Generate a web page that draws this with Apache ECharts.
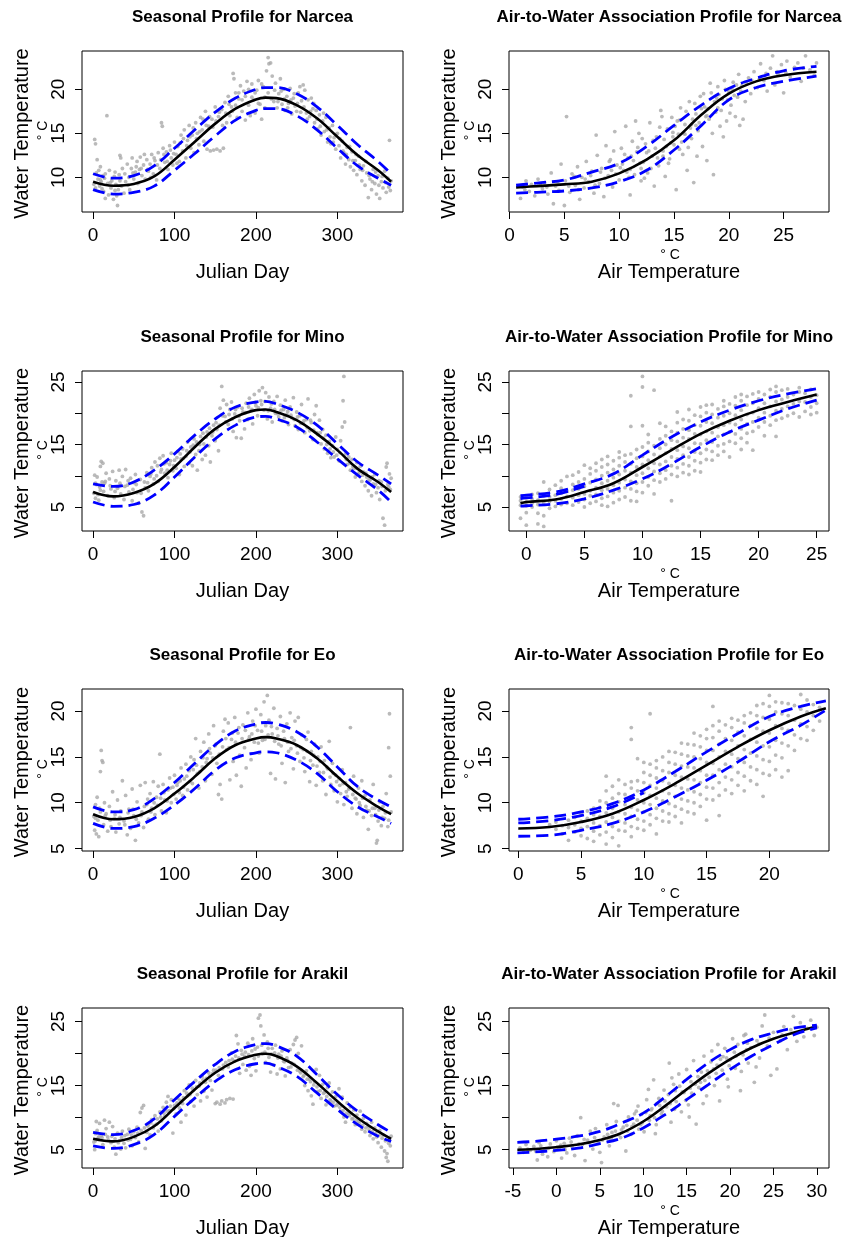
<!DOCTYPE html>
<html>
<head>
<meta charset="utf-8">
<script src="https://cdn.jsdelivr.net/npm/echarts@6/dist/echarts.min.js"></script>
<style>
html, body { margin: 0; padding: 0; background: #fff; }
#chart { width: 844px; height: 1237px; }
</style>
</head>
<body>
<div id="chart"></div>
<script>
// ---------- data ----------

// fitted seasonal curves (Julian day grid)
const seasonDays = [0, 25, 50, 75, 100, 125, 150, 175, 200, 212, 225, 250, 275, 300, 325, 350, 366]

const narceaSeasonMid = [9.5, 9.05, 9.25, 10.1, 12.0, 14.05, 16.1, 17.8, 18.85, 19.05, 19.0, 18.2, 16.7, 14.6, 12.5, 10.8, 9.5]
const narceaSeasonUp = [10.4, 9.9, 10.2, 11.3, 13.3, 15.4, 17.4, 19.0, 20.0, 20.2, 20.2, 19.5, 18.0, 15.9, 13.7, 11.8, 10.4]
const narceaSeasonLo = [8.6, 8.1, 8.3, 9.0, 10.8, 12.7, 14.7, 16.5, 17.6, 17.8, 17.8, 17.0, 15.4, 13.3, 11.3, 9.9, 9.1]

const minoSeasonMid = [7.4, 6.7, 7.25, 8.7, 11.4, 14.6, 17.5, 19.4, 20.5, 20.6, 20.2, 18.9, 16.7, 14.1, 11.1, 9.0, 7.4]
const minoSeasonUp = [8.7, 8.3, 9.0, 10.9, 13.5, 16.5, 19.1, 21.0, 21.8, 21.9, 21.5, 20.2, 18.1, 15.1, 12.2, 10.1, 8.7]
const minoSeasonLo = [5.8, 5.1, 5.4, 6.9, 9.8, 13.0, 15.9, 18.1, 19.4, 19.5, 19.1, 17.8, 15.4, 12.7, 10.1, 7.7, 5.8]

const eoSeasonMid = [8.75, 8.2, 8.45, 9.4, 11.0, 12.85, 14.85, 16.3, 17.0, 17.15, 17.0, 16.3, 14.85, 12.85, 11.0, 9.55, 8.75]
const eoSeasonUp = [9.55, 9.0, 9.25, 10.45, 12.2, 14.3, 16.3, 17.85, 18.6, 18.75, 18.6, 17.75, 16.1, 13.9, 11.75, 10.3, 9.55]
const eoSeasonLo = [7.75, 7.2, 7.4, 8.3, 9.75, 11.55, 13.55, 14.9, 15.45, 15.55, 15.45, 14.65, 13.2, 11.2, 9.55, 8.45, 7.75]

const arakilSeasonMid = [6.7, 6.3, 7.0, 8.65, 11.5, 14.4, 17.0, 18.8, 19.8, 19.95, 19.6, 18.0, 15.4, 12.55, 9.95, 7.85, 6.7]
const arakilSeasonUp = [7.7, 7.35, 8.0, 9.8, 12.8, 15.65, 18.3, 20.35, 21.4, 21.55, 21.2, 19.6, 16.7, 13.6, 11.0, 8.9, 7.7]
const arakilSeasonLo = [5.6, 5.2, 5.8, 7.35, 10.2, 13.05, 15.65, 17.5, 18.4, 18.5, 18.0, 16.45, 13.85, 11.25, 8.9, 7.1, 6.3]

// fitted air-to-water curves
const narceaAirX = [0.6, 2.5, 5, 7.5, 10, 12.5, 15, 17.5, 20, 22.5, 25, 28]
const narceaAirMid = [8.86, 9.0, 9.2, 9.5, 10.45, 12.0, 14.2, 17.1, 19.5, 20.9, 21.6, 22.0]
const narceaAirUp = [9.1, 9.35, 9.7, 10.6, 11.6, 13.5, 15.9, 18.2, 20.1, 21.25, 22.1, 22.6]
const narceaAirLo = [8.2, 8.3, 8.45, 8.8, 9.5, 10.8, 13.1, 15.9, 18.8, 20.2, 20.9, 21.5]

const minoAirX = [-0.5, 0, 2.5, 5, 7.5, 10, 12.5, 15, 17.5, 20, 22.5, 25]
const minoAirMid = [5.6, 5.8, 6.2, 7.4, 8.8, 11.4, 14.1, 16.7, 18.8, 20.5, 21.8, 23.0]
const minoAirUp = [6.8, 6.9, 7.4, 8.7, 10.3, 13.3, 16.2, 18.6, 20.5, 22.0, 23.1, 23.9]
const minoAirLo = [5.15, 5.2, 5.5, 6.3, 7.7, 9.5, 11.9, 14.6, 17.0, 18.9, 20.7, 22.1]
const minoAirUp2X = [-0.5, 0, 2.5, 5]
const minoAirUp2 = [6.35, 6.45, 7.0, 8.3]

const eoAirX = [0, 2.5, 5, 7.5, 10, 12.5, 15, 17.5, 20, 22.5, 24.5]
const eoAirMid = [7.2, 7.35, 7.9, 8.8, 10.3, 12.1, 14.1, 16.1, 17.9, 19.4, 20.3]
const eoAirUp = [8.2, 8.45, 9.0, 9.9, 11.4, 13.4, 15.55, 17.55, 19.4, 20.5, 21.1]
const eoAirLo = [6.35, 6.45, 7.0, 7.75, 9.0, 10.65, 12.45, 14.45, 16.65, 18.45, 20.1]
const eoAirUp2X = [0, 2.5, 5, 7.5, 10]
const eoAirUp2 = [7.8, 8.05, 8.6, 9.55, 11.1]

const arakilAirX = [-4.5, -2.5, 0, 2.5, 5, 7.5, 10, 12.5, 15, 17.5, 20, 22.5, 25, 27.5, 30]
const arakilAirMid = [5.0, 5.1, 5.4, 5.8, 6.5, 7.6, 9.4, 11.8, 14.4, 16.9, 19.1, 20.9, 22.3, 23.3, 24.2]
const arakilAirUp = [6.15, 6.3, 6.65, 7.1, 7.85, 9.15, 10.7, 13.2, 15.95, 18.55, 20.6, 22.2, 23.2, 24.0, 24.4]
const arakilAirLo = [4.5, 4.65, 4.9, 5.25, 5.95, 6.8, 8.4, 10.45, 12.8, 15.15, 17.5, 19.6, 21.4, 23.0, 24.0]

// observations: [julian day, water temp]
const narceaSeasonPts = [[1,9.2],[2,14.3],[3,13.8],[4,10.5],[5,12.0],[6,9.8],[7,10.8],[8,9.0],[9,11.2],[10,9.5],[11,8.7],[12,10.2],[13,8.4],[14,9.9],[15,7.6],[17,17.0],[18,9.3],[19,8.0],[20,10.8],[22,8.8],[23,9.6],[25,7.5],[26,10.1],[27,8.5],[28,9.2],[29,7.9],[30,6.8],[31,8.6],[32,10.3],[33,12.5],[34,12.2],[35,9.0],[36,11.0],[38,8.2],[40,9.5],[42,11.5],[44,10.0],[45,8.6],[47,11.0],[48,12.2],[50,9.8],[52,10.6],[54,11.8],[55,9.3],[57,10.9],[58,12.3],[60,10.2],[62,11.4],[64,9.8],[66,12.0],[68,10.7],[70,11.5],[72,12.6],[74,10.4],[76,11.9],[78,9.7],[80,12.8],[82,11.0],[84,16.2],[85,15.8],[86,13.3],[88,11.7],[90,12.9],[92,10.9],[94,13.6],[96,12.2],[98,11.4],[100,14.0],[102,12.6],[104,13.5],[106,11.8],[108,14.8],[110,13.0],[112,15.4],[114,12.2],[116,14.2],[118,15.9],[120,13.3],[122,14.8],[124,12.8],[126,16.2],[128,15.0],[130,13.7],[132,16.8],[134,15.4],[136,14.1],[138,17.5],[140,13.2],[142,15.8],[144,13.0],[146,16.6],[148,13.1],[150,18.0],[152,13.2],[154,16.9],[156,13.0],[158,17.7],[160,13.3],[162,18.5],[164,16.2],[166,19.2],[168,17.0],[170,18.0],[172,21.8],[173,21.2],[175,19.6],[177,16.8],[179,18.9],[181,20.4],[183,17.5],[185,19.8],[187,16.5],[189,20.9],[191,18.2],[193,17.0],[195,20.6],[197,18.8],[199,17.3],[201,19.9],[203,21.0],[205,18.3],[207,16.6],[209,20.3],[211,19.1],[213,22.1],[215,23.6],[216,22.9],[218,23.0],[220,21.5],[222,18.6],[224,20.7],[226,17.9],[228,19.5],[230,21.2],[232,18.3],[234,20.0],[236,17.6],[238,19.2],[240,18.4],[242,20.1],[244,17.2],[246,19.0],[248,18.1],[250,17.5],[252,19.6],[254,20.3],[256,18.7],[258,20.5],[260,19.9],[262,17.3],[264,18.8],[266,16.9],[268,19.0],[270,17.8],[272,16.2],[274,17.6],[276,15.5],[278,17.1],[280,14.8],[282,16.4],[284,15.2],[286,16.8],[288,14.0],[290,15.6],[292,13.8],[294,15.9],[296,14.5],[298,13.2],[300,15.0],[302,13.6],[304,12.2],[306,14.1],[308,12.8],[310,11.5],[312,13.4],[314,12.0],[316,11.2],[318,12.9],[320,10.8],[322,11.9],[324,10.3],[326,12.4],[328,10.9],[330,9.6],[332,11.3],[334,9.1],[336,10.5],[338,7.7],[340,9.8],[342,8.6],[344,10.9],[346,9.3],[348,8.1],[350,10.2],[352,7.6],[354,9.5],[356,8.8],[358,10.7],[360,8.3],[362,9.9],[364,14.2],[365,8.5],[366,9.6],
  [3,8.8],[9,9.7],[15,10.4],[21,9.4],[27,10.6],[33,9.6],[39,10.4],[43,9.1],[49,10.5],[53,11.2],[59,11.0],[63,12.6],[67,10.9],[71,10.0],[75,12.2],[79,11.4],[83,12.0],[87,12.6],[91,11.8],[95,13.1],[99,12.7],[103,11.6],[107,13.9],[111,14.4],[115,13.6],[119,14.6],[123,15.6],[127,14.4],[131,15.2],[135,16.6],[139,15.9],[143,16.9],[147,15.7],[151,16.4],[155,17.4],[159,15.9],[163,17.3],[167,18.3],[171,17.5],[175,18.2],[179,19.6],[183,18.8],[187,19.2],[191,20.0],[195,19.1],[199,19.6],[203,18.4],[207,20.6],[211,17.9],[215,19.6],[219,18.9],[223,19.9],[227,18.6],[231,19.8],[235,18.9],[239,17.9],[243,18.8],[247,19.5],[251,18.4],[255,17.4],[259,18.0],[263,16.6],[267,17.5],[271,18.4],[275,16.6],[279,15.8],[283,17.3],[287,15.4],[291,14.6],[295,14.0],[299,14.9],[303,14.4],[307,13.0],[311,12.6],[315,13.5],[319,11.9],[323,12.6],[327,11.4],[331,10.8],[335,11.8],[339,10.2],[343,9.5],[347,10.6],[351,9.1],[355,10.1],[359,9.4],[363,8.9]]

const minoSeasonPts = [[1,7.2],[2,10.1],[3,6.4],[4,8.6],[5,9.8],[6,7.0],[7,6.1],[8,8.2],[9,11.5],[10,12.3],[11,9.0],[12,12.0],[13,7.5],[14,8.8],[16,10.4],[18,6.8],[20,9.5],[22,7.9],[24,10.7],[26,6.5],[28,9.2],[30,8.0],[32,10.9],[34,7.1],[36,9.9],[38,6.2],[40,11.0],[42,8.5],[44,7.4],[46,9.6],[48,6.0],[50,8.9],[52,10.2],[54,7.3],[56,5.6],[58,9.4],[60,4.2],[62,3.6],[64,8.1],[66,10.5],[68,7.6],[70,9.9],[72,11.3],[74,8.7],[76,12.2],[78,10.0],[80,9.1],[82,12.8],[84,11.0],[86,13.2],[88,10.4],[90,12.1],[92,9.7],[94,11.8],[96,13.6],[98,10.8],[100,12.5],[102,11.2],[104,13.9],[106,10.2],[108,12.7],[110,14.3],[112,11.5],[114,13.1],[116,15.4],[118,12.0],[120,14.6],[122,11.6],[124,15.9],[126,13.4],[128,10.9],[130,14.0],[132,16.3],[134,12.6],[136,15.1],[138,13.3],[140,17.0],[142,14.8],[144,12.2],[146,16.4],[148,18.1],[150,15.6],[152,17.4],[154,14.0],[156,20.8],[158,24.3],[160,22.1],[162,19.5],[164,21.4],[166,18.2],[168,20.6],[170,21.8],[172,17.1],[174,19.9],[176,16.1],[178,21.0],[180,18.8],[182,16.0],[184,20.2],[186,17.5],[188,21.6],[190,19.0],[192,22.4],[194,20.4],[196,18.3],[198,23.0],[200,21.2],[202,19.6],[204,23.6],[206,22.0],[208,24.1],[210,20.5],[212,23.3],[214,19.1],[216,22.6],[218,20.8],[220,18.6],[222,21.9],[224,20.0],[226,22.7],[228,19.4],[230,21.3],[232,18.8],[234,20.6],[236,22.1],[238,19.8],[240,18.2],[242,21.0],[244,19.3],[246,22.5],[248,18.0],[250,20.2],[252,17.4],[254,19.6],[256,21.4],[258,18.4],[260,16.9],[262,19.0],[264,22.3],[266,17.2],[268,18.5],[270,15.8],[272,19.8],[274,21.2],[276,16.6],[278,18.9],[280,15.1],[282,17.4],[284,14.3],[286,16.5],[288,13.6],[290,15.5],[292,12.9],[294,14.8],[296,13.0],[298,16.2],[300,14.2],[302,12.4],[304,15.6],[306,17.8],[307,22.0],[308,25.9],[309,18.6],[310,13.5],[312,11.8],[314,13.0],[316,10.9],[318,12.6],[320,11.2],[322,9.8],[324,12.1],[326,10.3],[328,11.5],[330,9.1],[332,10.6],[334,8.4],[336,9.8],[338,7.6],[340,9.3],[342,6.8],[344,8.7],[346,10.2],[348,7.3],[350,8.1],[352,6.2],[354,9.0],[356,3.2],[358,2.1],[360,11.4],[361,12.0],[362,8.6],[364,10.3],[365,7.8],[366,9.6],
  [3,8.8],[9,7.7],[15,9.1],[21,8.4],[27,7.5],[33,8.8],[39,8.3],[43,9.2],[49,7.8],[53,8.6],[59,7.2],[63,9.0],[67,8.9],[71,10.3],[75,9.5],[79,11.6],[83,10.6],[87,11.9],[91,10.9],[95,12.4],[99,11.6],[103,12.9],[107,13.5],[111,12.8],[115,14.0],[119,13.8],[123,14.9],[127,15.4],[131,15.0],[135,16.8],[139,16.2],[143,17.6],[147,17.0],[151,18.5],[155,18.1],[159,19.6],[163,18.6],[167,19.8],[171,19.1],[175,20.6],[179,19.5],[183,20.8],[187,20.1],[191,21.0],[195,20.6],[199,21.7],[203,20.9],[207,21.4],[211,21.9],[215,20.4],[219,21.5],[223,20.6],[227,19.9],[231,20.5],[235,19.3],[239,20.3],[243,19.7],[247,19.0],[251,19.4],[255,18.4],[259,18.8],[263,17.7],[267,18.9],[271,17.3],[275,16.9],[279,16.9],[283,16.0],[287,15.0],[291,14.3],[295,13.8],[299,13.3],[303,13.7],[311,12.6],[315,12.0],[319,11.5],[323,11.2],[327,10.6],[331,10.1],[335,10.4],[339,9.4],[343,9.8],[347,8.6],[351,9.2],[355,8.3],[359,7.6],[363,8.2]]

const eoSeasonPts = [[1,8.5],[2,7.0],[3,9.8],[4,6.6],[5,10.6],[6,8.1],[7,6.3],[8,9.4],[9,13.4],[10,15.7],[11,14.6],[12,14.4],[13,7.6],[14,10.0],[16,8.8],[18,6.9],[20,9.6],[22,7.4],[24,11.2],[26,8.3],[28,6.8],[30,10.3],[32,7.7],[34,9.1],[36,12.4],[38,8.0],[40,10.8],[42,6.5],[44,9.3],[46,7.2],[48,11.5],[50,8.6],[52,5.9],[54,10.1],[56,7.8],[58,11.9],[60,9.0],[62,7.3],[64,12.2],[66,9.8],[68,8.2],[70,11.0],[72,9.4],[74,12.3],[76,8.7],[78,10.6],[80,11.8],[82,15.3],[84,9.1],[86,12.0],[88,10.3],[90,8.9],[92,11.4],[94,12.7],[96,10.0],[98,11.7],[100,13.0],[102,10.4],[104,12.2],[106,11.1],[108,13.8],[110,10.8],[112,12.6],[114,14.2],[116,11.4],[118,13.5],[120,15.0],[122,12.1],[124,14.7],[126,17.0],[128,13.2],[130,11.6],[132,15.6],[134,13.9],[136,16.6],[138,12.4],[140,14.8],[142,17.5],[144,15.4],[146,13.1],[148,18.4],[150,16.2],[152,14.3],[154,10.9],[156,12.0],[158,10.4],[160,17.8],[162,19.1],[164,15.8],[166,18.7],[168,12.5],[170,16.9],[172,14.5],[174,19.3],[176,13.0],[178,17.6],[180,15.2],[182,11.8],[184,18.5],[186,16.0],[188,13.8],[190,19.8],[192,17.2],[194,14.7],[196,18.9],[198,16.6],[200,20.2],[202,17.9],[204,15.4],[206,19.6],[208,16.8],[210,21.0],[212,18.4],[214,21.7],[216,19.0],[218,13.2],[220,17.5],[222,20.3],[224,12.6],[226,18.1],[228,16.4],[230,19.4],[232,14.3],[234,17.8],[236,12.2],[238,18.6],[240,15.6],[242,19.8],[244,17.1],[246,13.7],[248,18.9],[250,16.2],[252,19.3],[254,14.5],[256,17.4],[258,15.8],[260,13.4],[262,16.9],[264,17.7],[266,12.3],[268,15.6],[270,14.1],[272,16.4],[274,11.9],[276,15.0],[278,13.3],[280,16.1],[282,12.4],[284,14.6],[286,10.9],[288,13.7],[290,16.7],[292,12.0],[294,14.3],[296,11.3],[298,13.0],[300,10.1],[302,12.6],[304,11.0],[306,13.6],[308,9.8],[310,12.2],[312,10.7],[314,11.5],[316,18.2],[318,9.4],[320,12.9],[322,10.5],[324,8.8],[326,11.6],[328,9.7],[330,12.4],[332,8.4],[334,10.8],[336,9.2],[338,7.1],[340,10.3],[342,8.6],[344,12.0],[346,9.4],[348,5.6],[349,5.9],[350,8.0],[352,10.1],[354,7.5],[356,9.6],[358,8.3],[360,11.0],[362,7.4],[363,16.0],[364,19.7],[365,12.9],[366,9.0],
  [3,8.3],[9,9.0],[15,8.6],[21,8.1],[27,8.7],[33,8.4],[39,7.6],[43,8.9],[49,9.3],[53,8.2],[59,8.6],[63,9.6],[67,10.4],[71,9.0],[75,10.0],[79,9.7],[83,10.5],[87,11.1],[91,10.2],[95,11.6],[99,10.9],[103,11.9],[107,12.4],[111,11.7],[115,12.9],[119,12.3],[123,13.6],[127,14.1],[131,13.4],[135,14.9],[139,14.4],[143,15.9],[147,14.9],[151,16.4],[155,15.3],[159,16.1],[163,17.0],[167,16.0],[171,17.6],[175,16.6],[179,18.2],[183,17.0],[187,17.9],[191,16.9],[195,17.5],[199,18.4],[203,16.5],[207,17.8],[211,16.9],[215,17.4],[219,18.3],[223,16.7],[227,17.3],[231,16.2],[235,17.0],[239,16.6],[243,15.9],[247,16.8],[251,15.4],[255,16.0],[259,14.9],[263,15.6],[267,14.6],[271,15.2],[275,14.0],[279,14.5],[283,13.3],[287,13.9],[291,12.8],[295,13.2],[299,12.3],[303,11.9],[307,12.1],[311,11.2],[315,11.6],[319,10.9],[323,10.4],[327,10.0],[331,10.5],[335,9.6],[339,9.1],[343,9.4],[347,8.7],[351,9.2],[355,8.4],[359,8.9],[363,8.1]]

const arakilSeasonPts = [[1,6.2],[2,5.0],[3,7.5],[4,9.4],[5,8.0],[6,6.8],[8,9.1],[10,7.2],[12,5.8],[14,9.6],[16,8.3],[18,7.0],[20,9.3],[22,6.1],[24,8.6],[26,5.4],[28,4.3],[30,7.6],[32,6.4],[34,5.1],[36,7.9],[38,6.0],[40,5.3],[42,7.4],[44,8.2],[46,6.6],[48,5.6],[50,7.8],[52,6.9],[54,8.5],[56,6.2],[58,10.8],[60,11.5],[62,11.9],[64,5.2],[66,7.7],[68,8.9],[70,7.3],[72,9.7],[74,8.4],[76,10.3],[78,9.0],[80,7.9],[82,10.9],[84,9.5],[86,11.6],[88,10.2],[90,12.4],[92,13.3],[94,11.1],[96,12.8],[98,7.6],[100,11.9],[102,10.6],[104,13.0],[106,11.5],[108,9.3],[110,12.2],[112,14.2],[114,10.4],[116,13.4],[118,15.1],[120,12.5],[122,14.6],[124,11.8],[126,15.8],[128,13.6],[130,14.9],[132,12.6],[134,16.4],[136,14.1],[138,15.5],[140,13.2],[142,17.0],[144,15.8],[146,14.3],[148,17.4],[150,12.2],[152,12.4],[154,16.6],[156,12.1],[158,12.6],[160,18.2],[162,12.3],[164,12.8],[166,17.9],[168,13.0],[170,20.1],[172,12.9],[174,18.8],[176,22.8],[178,21.5],[180,16.9],[182,20.5],[184,18.3],[186,19.6],[188,17.4],[190,21.6],[192,18.0],[194,16.6],[196,22.3],[198,19.2],[200,17.3],[202,21.0],[203,25.5],[205,26.0],[206,24.3],[208,20.0],[210,22.9],[212,18.6],[214,21.8],[216,19.4],[218,17.1],[220,20.8],[222,18.2],[224,21.3],[226,16.8],[228,19.9],[230,17.6],[232,20.4],[234,18.8],[236,16.5],[238,19.3],[240,17.8],[242,20.6],[244,18.5],[246,21.4],[248,22.1],[250,22.5],[252,20.0],[254,17.2],[256,21.2],[258,16.4],[260,15.0],[262,17.3],[264,14.2],[266,16.0],[268,13.4],[270,12.1],[272,15.6],[274,17.5],[276,14.1],[278,16.6],[280,13.0],[282,15.2],[284,13.9],[286,12.0],[288,14.7],[290,15.4],[292,12.6],[294,14.0],[296,11.8],[298,13.3],[300,12.1],[302,14.5],[304,11.0],[306,13.2],[308,10.1],[310,9.3],[312,12.3],[314,10.6],[316,11.7],[318,9.8],[320,11.2],[322,8.9],[324,10.4],[326,9.4],[328,11.0],[330,8.2],[332,9.9],[334,7.8],[336,9.1],[338,8.6],[340,7.2],[342,9.3],[344,6.7],[346,8.4],[348,7.0],[350,6.1],[352,8.0],[354,5.4],[356,7.3],[358,4.8],[360,3.8],[361,4.4],[362,3.2],[364,6.5],[365,5.6],[366,7.1],
  [3,6.4],[7,7.0],[11,6.9],[15,7.4],[19,6.5],[23,7.1],[27,6.7],[31,6.1],[35,6.9],[39,7.2],[43,6.5],[47,7.3],[51,7.1],[55,7.6],[59,8.0],[63,8.4],[67,8.7],[71,9.2],[75,8.8],[79,9.8],[83,10.1],[87,10.7],[91,11.0],[95,11.8],[99,11.4],[103,12.3],[107,12.7],[111,13.1],[115,13.8],[119,13.6],[123,14.3],[127,14.8],[131,15.4],[135,15.9],[139,16.1],[143,16.5],[147,16.9],[151,17.4],[155,17.8],[159,17.6],[163,18.6],[167,18.9],[171,19.1],[175,19.6],[179,19.3],[183,19.9],[187,20.2],[191,19.8],[195,20.4],[199,20.7],[203,19.6],[207,21.3],[211,20.2],[215,20.8],[219,19.9],[223,20.1],[227,19.3],[231,19.6],[235,18.7],[239,18.9],[243,17.9],[247,18.3],[251,17.4],[255,17.0],[259,16.6],[263,16.0],[267,15.6],[271,15.1],[275,14.8],[279,14.2],[283,13.8],[287,13.3],[291,12.8],[295,12.4],[299,11.9],[303,11.6],[307,11.1],[311,10.7],[315,10.3],[319,9.9],[323,9.6],[327,9.1],[331,8.8],[335,8.4],[339,8.1],[343,7.8],[347,7.5],[351,7.2],[355,6.8],[359,6.4],[363,6.0]]

// observations: [air temp, water temp]
const narceaAirPts = [[1.0,7.6],[1.2,8.9],[1.5,9.6],[1.8,8.4],[2.0,9.2],[2.3,7.9],[2.6,9.8],[3.0,8.7],[3.2,9.4],[3.5,8.1],[3.8,10.5],[4.0,7.0],[4.2,9.0],[4.5,8.5],[4.7,11.5],[5.0,6.8],[5.1,9.6],[5.2,16.9],[5.5,8.3],[5.7,10.4],[6.0,9.1],[6.2,11.2],[6.4,7.5],[6.6,10.0],[6.8,8.8],[7.0,11.8],[7.2,9.5],[7.5,10.7],[7.7,8.2],[7.9,14.8],[8.0,12.5],[8.2,9.3],[8.4,11.0],[8.6,7.8],[8.8,13.6],[9.0,10.2],[9.2,12.0],[9.4,8.9],[9.6,15.2],[9.8,11.4],[10.0,9.7],[10.2,13.3],[10.4,10.8],[10.6,15.8],[10.8,12.2],[11.0,8.0],[11.2,14.1],[11.4,10.3],[11.6,12.9],[11.8,15.0],[12.0,9.6],[12.2,11.7],[12.4,13.8],[12.6,10.5],[12.8,16.2],[13.0,12.4],[13.2,9.0],[13.4,14.6],[13.6,11.3],[13.8,17.6],[14.0,13.0],[14.2,10.1],[14.4,15.5],[14.6,12.1],[14.8,16.8],[15.0,13.7],[15.2,8.6],[15.4,14.9],[15.6,17.9],[15.8,12.6],[16.0,16.0],[16.2,10.8],[16.4,18.6],[16.6,14.4],[16.8,9.4],[17.0,17.2],[17.2,15.3],[17.4,19.2],[17.6,13.5],[17.8,18.0],[18.0,11.9],[18.2,16.6],[18.4,19.6],[18.6,10.3],[18.8,17.4],[19.0,20.3],[19.2,15.8],[19.4,18.9],[19.6,21.0],[19.8,16.4],[20.0,19.7],[20.2,18.2],[20.4,20.8],[20.6,16.9],[20.8,19.1],[21.0,15.9],[21.2,20.4],[21.5,18.6],[21.8,21.3],[22.0,19.5],[22.3,22.0],[22.6,20.2],[22.9,22.9],[23.2,21.0],[23.5,19.8],[23.8,22.4],[24.0,23.8],[24.2,20.5],[24.5,21.7],[24.8,22.8],[25.0,19.6],[25.3,23.2],[25.6,21.4],[26.0,22.5],[26.3,23.0],[26.6,20.9],[27.0,23.8],[27.4,22.2],[27.8,21.6],[28.0,23.0],[9.1,11.8],[9.5,13.0],[10.1,11.1],[10.5,12.6],[10.9,10.0],[11.3,11.9],[11.7,13.4],[12.1,14.4],[12.5,12.8],[12.9,11.0],[13.3,13.3],[13.7,15.7],[14.1,14.3],[14.5,11.6],[14.9,15.1],[15.3,16.4],[15.7,14.0],[16.1,17.5],[16.5,15.6],[16.9,18.4],[17.3,16.2],[17.7,19.5],[18.1,17.8],[18.5,15.0],[18.9,19.0],[19.3,17.6],[19.7,20.0],[20.1,17.3],[20.5,19.3],[15.5,16.5],[16.3,13.4],[14.7,13.9],[13.9,16.9],[12.3,9.9],[11.5,16.4],[17.1,12.4],[18.3,20.7],[19.5,14.6],[20.9,21.7],[21.3,16.6],
  [1.4,8.6],[2.8,9.1],[3.4,8.9],[4.4,9.5],[5.4,9.0],[5.9,10.1],[6.3,8.6],[6.9,9.8],[7.4,10.2],[7.8,9.1],[8.3,10.6],[8.7,9.9],[9.3,10.8],[9.7,10.4],[10.3,11.5],[10.7,10.6],[11.1,12.4],[11.9,11.6],[12.7,13.0],[13.1,14.2],[13.5,12.2],[14.3,13.5],[14.9,14.6],[15.1,15.8],[15.9,15.0],[16.7,16.6],[17.5,17.8],[17.9,16.9],[18.7,18.6],[19.1,19.4],[19.9,18.8],[20.3,20.0],[20.7,20.5],[21.1,19.8],[21.6,20.7],[22.1,21.0],[22.8,21.2],[23.4,21.8],[24.4,22.0],[25.2,21.9],[26.8,22.4],[16.0,14.9],[17.0,15.9],[18.0,17.0],[12.0,11.0],[11.0,10.9],[14.0,12.4],[15.5,13.2],[16.6,16.0],[19.0,17.9]]

// Mino and Eo air temps come in 0.5 degree columns: [air temp, [water temps]]
const minoAirCols = [[-0.5,[3.2,5.3,6.0,6.6]],[0,[2.1,4.1,5.2,5.8,6.5]],[0.5,[5.0,5.6,6.3,7.0]],[1,[2.3,4.0,5.4,6.1,7.2]],[1.5,[1.9,3.6,5.7,6.8,9.0]],[2,[4.8,5.9,6.6,7.8]],[2.5,[5.1,6.0,6.9,8.5]],[3,[5.4,6.3,7.2,8.0,9.2]],[3.5,[5.6,6.7,7.5,9.9]],[4,[5.3,6.5,7.7,8.6,10.1]],[4.5,[5.8,6.9,7.9,9.0,10.6]],[5,[5.0,6.2,7.1,8.3,9.5,11.7]],[5.5,[5.6,6.8,7.6,8.9,10.3,11.2]],[6,[5.9,7.0,8.1,9.4,10.8,12.0]],[6.5,[5.3,6.4,7.7,8.8,10.0,11.4,12.6]],[7,[5.1,6.7,7.9,9.2,10.5,11.8,13.1]],[7.5,[5.7,7.3,8.5,9.7,11.0,12.4]],[8,[6.2,7.6,8.9,10.2,11.6,12.9,13.8]],[8.5,[6.6,8.1,9.4,10.8,12.2,13.3]],[9,[6.0,7.9,9.1,10.5,11.9,13.5,17.9,22.8]],[9.5,[5.9,7.5,8.8,10.1,11.4,12.8,14.2]],[10,[7.3,9.0,10.4,11.8,13.1,14.6,18.0,24.2,25.9]],[10.5,[8.4,9.8,11.2,12.5,13.9,15.3,16.6]],[11,[7.1,9.3,10.7,12.0,13.4,14.8,23.7]],[11.5,[9.0,10.4,11.8,13.1,14.4,15.9,18.4]],[12,[9.5,10.9,12.3,13.6,15.0,16.4,17.9]],[12.5,[6.0,10.2,11.6,13.0,14.3,15.7,17.1]],[13,[9.9,11.3,12.7,14.1,15.5,16.9,18.5,20.2]],[13.5,[10.5,11.9,13.3,14.7,16.1,17.5,19.0]],[14,[10.2,11.6,13.0,14.4,15.9,17.3,18.8,20.6]],[14.5,[10.8,12.4,13.8,15.2,16.7,18.1,19.7]],[15,[10.6,12.1,13.6,15.1,16.6,18.0,19.5,21.0]],[15.5,[12.6,14.2,15.7,17.1,18.6,20.1,21.3]],[16,[12.5,13.9,15.4,16.9,18.4,19.8,21.4]],[16.5,[13.3,14.8,16.3,17.8,19.3,20.7]],[17,[13.9,15.1,16.6,18.1,19.6,21.1,22.0]],[17.5,[13.0,15.5,17.0,18.5,20.0,21.5]],[18,[15.2,16.7,18.2,19.7,21.2,22.6]],[18.5,[14.2,16.0,17.5,19.0,20.5,22.0,23.0]],[19,[15.3,16.8,18.3,19.8,21.3,22.7]],[19.5,[14.1,17.1,18.6,20.1,21.6,23.1]],[20,[17.8,19.3,20.8,22.3,23.4]],[20.5,[16.4,18.6,20.1,21.6,23.0]],[21,[18.1,19.6,21.1,22.6,23.8]],[21.5,[16.3,18.9,20.4,21.9,23.4,24.3]],[22,[19.2,20.7,22.2,23.7]],[22.5,[19.6,21.1,22.6,23.9]],[23,[20.0,21.5,23.0]],[23.5,[19.4,21.9,23.4,24.1]],[24,[20.3,21.8,23.2]],[24.5,[19.8,21.0,22.6,23.8]],[25,[20.1,21.6,22.9]]]

const eoAirCols = [[2.5,[7.6]],[3,[7.1,7.9]],[3.5,[6.6,7.5]],[4,[5.9,7.3,8.1]],[4.5,[6.8,7.6,8.4]],[5,[6.4,7.2,8.0,8.8]],[5.5,[6.1,7.4,8.3,9.1]],[6,[5.8,6.9,7.8,8.7,9.4]],[6.5,[6.5,7.5,8.5,9.5,10.2]],[7,[5.5,6.8,7.9,8.9,10.0,11.3,12.9]],[7.5,[6.2,7.4,8.4,9.4,10.5,11.8]],[8,[5.3,7.0,8.0,9.0,10.1,11.0,12.5]],[8.5,[6.9,7.8,8.8,9.8,10.9,12.0]],[9,[6.3,7.4,8.5,9.5,10.6,11.6,12.3,16.9,18.2]],[9.5,[7.2,8.2,9.2,10.3,11.3,12.4,14.8]],[10,[7.0,8.0,9.0,10.0,11.1,12.2,13.3,14.4]],[10.5,[7.6,8.7,9.8,10.8,11.9,13.0,14.2,19.7]],[11,[6.6,8.3,9.4,10.5,11.6,12.7,13.8,14.6]],[11.5,[8.0,9.1,10.2,11.3,12.4,13.5,15.0]],[12,[7.9,8.8,9.9,11.0,12.1,13.3,14.4,15.6]],[12.5,[8.5,9.6,10.7,11.9,13.0,14.2,15.5]],[13,[7.8,9.3,10.4,11.6,12.8,14.0,15.3,16.5]],[13.5,[9.0,10.2,11.4,12.6,13.9,15.1,16.4]],[14,[8.8,10.0,11.2,12.5,13.8,15.0,16.3,17.6]],[14.5,[9.6,10.9,12.2,13.5,14.8,16.1,17.3]],[15,[8.1,10.4,11.7,13.0,14.4,15.7,17.0,18.0]],[15.5,[10.3,11.6,13.0,14.3,15.7,17.1,18.4,20.5]],[16,[8.6,10.8,12.2,13.6,15.0,16.4,17.8,18.9]],[16.5,[11.4,12.8,14.2,15.6,17.0,18.5]],[17,[11.0,12.5,13.9,15.3,16.8,18.2,19.2]],[17.5,[11.9,13.3,14.8,16.2,17.7,19.0]],[18,[11.3,12.9,14.4,15.8,17.3,18.7,19.5]],[18.5,[12.4,13.9,15.4,16.9,18.4,19.8]],[19,[12.0,13.6,15.1,16.6,18.1,19.5,20.6]],[19.5,[10.7,13.2,14.7,16.2,17.8,19.3,20.8]],[20,[13.0,14.5,16.1,17.6,19.1,20.5,21.7]],[20.5,[13.6,15.2,16.8,18.4,19.9,21.0]],[21,[12.8,14.9,16.5,18.1,19.7,20.9]],[21.5,[13.5,16.2,17.9,19.5,20.8]],[22,[15.7,17.4,19.0,20.6]],[22.5,[17.0,18.6,20.2,21.8]],[23,[16.8,18.3,19.9,21.2]],[23.5,[17.9,19.5,20.7]],[24,[18.9,20.4]]]

const arakilAirPts = [[-4.2,5.3],[-3.8,4.6],[-3.5,5.8],[-3.0,4.9],[-2.6,5.5],[-2.2,3.4],[-2.0,6.1],[-1.6,4.3],[-1.3,5.0],[-1.0,3.9],[-0.7,5.9],[-0.3,4.7],[0.0,6.4],[0.3,5.2],[0.6,3.7],[0.9,6.0],[1.2,4.5],[1.5,6.8],[1.8,5.5],[2.1,4.1],[2.4,7.2],[2.8,10.0],[3.0,5.8],[3.3,3.3],[3.6,6.5],[3.9,7.9],[4.2,5.1],[4.5,8.3],[4.8,6.2],[5.0,4.6],[5.2,3.0],[5.5,7.0],[5.8,8.9],[6.1,5.6],[6.4,7.7],[6.6,12.2],[6.9,9.4],[7.1,11.9],[7.4,6.9],[7.7,8.5],[8.0,4.8],[8.3,10.1],[8.6,7.4],[8.9,9.0],[9.2,11.0],[9.5,8.2],[9.8,10.5],[10.1,7.8],[10.4,12.8],[10.7,9.6],[11.0,11.4],[11.2,15.9],[11.5,8.9],[11.8,13.0],[12.1,10.6],[12.4,14.3],[12.7,11.7],[13.0,18.5],[13.2,9.3],[13.5,15.2],[13.8,12.5],[14.1,16.8],[14.4,10.9],[14.7,13.9],[15.0,17.5],[15.2,12.0],[15.5,15.6],[15.8,18.9],[16.1,9.0],[16.4,14.7],[16.7,17.1],[17.0,19.6],[17.3,13.4],[17.6,16.3],[17.9,20.4],[18.2,15.0],[18.5,18.2],[18.8,12.6],[19.1,17.4],[19.4,20.8],[19.7,16.0],[20.0,19.0],[20.3,22.3],[20.6,17.7],[20.9,21.4],[21.2,14.2],[21.5,19.8],[21.8,23.0],[22.1,18.5],[22.4,20.9],[22.8,15.5],[23.1,22.0],[23.4,19.3],[23.7,24.3],[24.0,26.0],[24.3,21.2],[24.7,16.6],[25.0,23.3],[25.4,17.6],[25.8,22.0],[26.2,24.2],[26.6,20.6],[27.0,23.7],[27.3,25.8],[27.7,21.9],[28.1,24.8],[28.5,22.6],[28.9,23.9],[29.3,25.2],[29.7,22.8],[30.0,24.1],[8.1,8.8],[9.0,10.6],[9.9,9.2],[10.8,10.3],[11.6,12.2],[12.2,11.0],[12.9,13.6],[13.6,11.3],[14.2,14.9],[14.9,12.7],[15.6,13.8],[16.3,16.4],[17.1,15.8],[17.8,18.7],[18.4,16.9],[19.2,19.5],[19.9,18.1],[20.5,20.2],[21.3,17.2],[22.0,21.6],[11.4,7.5],[13.3,16.2],[15.3,10.1],[16.9,12.2],[18.6,21.4],[19.8,14.8],[21.6,22.8],[23.0,17.9],[6.0,6.6],[7.2,7.3],[9.4,11.8],[10.6,14.4],
  [-3.3,5.1],[-2.4,4.8],[-1.8,5.6],[-0.9,5.2],[0.5,5.7],[1.0,5.0],[1.7,6.2],[2.6,5.9],[3.2,6.6],[3.8,6.1],[4.4,6.9],[5.3,6.5],[5.9,7.4],[6.3,6.8],[6.8,7.9],[7.5,8.1],[8.2,7.9],[8.7,8.6],[9.3,9.6],[9.7,8.9],[10.3,10.8],[10.9,11.2],[11.3,10.0],[11.9,11.9],[12.5,12.6],[13.1,12.2],[13.7,14.2],[14.5,14.0],[15.4,14.6],[16.0,15.2],[16.6,15.5],[17.4,17.3],[18.1,17.6],[18.9,19.1],[19.6,19.3],[20.7,19.6],[21.9,20.6],[23.3,21.5],[24.5,22.4],[26.0,22.9],[28.3,23.5]]

// axis ranges and tick values
const dayRange = [-13.6, 380.6]
const dayTicks = [0, 100, 200, 300]
const narceaYRange = [6.06, 24.35]
const minoYRange = [1.16, 26.76]
const eoYRange = [4.74, 22.4]
const arakilYRange = [2.15, 27.09]
const narceaAirRange = [-0.05, 29.14]
const minoAirRange = [-1.49, 26.06]
const eoAirRange = [-0.74, 24.75]
const arakilAirRange = [-5.46, 31.4]

// ---------- build chart ----------
const FONT = '"Liberation Sans", Arial, Helvetica, sans-serif'
const pairs = (xs, ys) => xs.map((x, i) => [x, ys[i]])
const fromCols = cols => cols.flatMap(([x, ys]) => ys.map(y => [x, y]))

const panels = [
  { title: 'Seasonal Profile for Narcea', air: false, xr: dayRange, xt: dayTicks, yr: narceaYRange, yt: [10, 15, 20], yl: [10, 15, 20],
    pts: narceaSeasonPts, mid: pairs(seasonDays, narceaSeasonMid), bands: [pairs(seasonDays, narceaSeasonUp), pairs(seasonDays, narceaSeasonLo)] },
  { title: 'Air-to-Water Association Profile for Narcea', air: true, xr: narceaAirRange, xt: [0, 5, 10, 15, 20, 25], yr: narceaYRange, yt: [10, 15, 20], yl: [10, 15, 20],
    pts: narceaAirPts, mid: pairs(narceaAirX, narceaAirMid), bands: [pairs(narceaAirX, narceaAirUp), pairs(narceaAirX, narceaAirLo)] },
  { title: 'Seasonal Profile for Mino', air: false, xr: dayRange, xt: dayTicks, yr: minoYRange, yt: [5, 10, 15, 20, 25], yl: [5, 15, 25],
    pts: minoSeasonPts, mid: pairs(seasonDays, minoSeasonMid), bands: [pairs(seasonDays, minoSeasonUp), pairs(seasonDays, minoSeasonLo)] },
  { title: 'Air-to-Water Association Profile for Mino', air: true, xr: minoAirRange, xt: [0, 5, 10, 15, 20, 25], yr: minoYRange, yt: [5, 10, 15, 20, 25], yl: [5, 15, 25],
    pts: fromCols(minoAirCols), mid: pairs(minoAirX, minoAirMid), bands: [pairs(minoAirX, minoAirUp), pairs(minoAirUp2X, minoAirUp2), pairs(minoAirX, minoAirLo)] },
  { title: 'Seasonal Profile for Eo', air: false, xr: dayRange, xt: dayTicks, yr: eoYRange, yt: [5, 10, 15, 20], yl: [5, 10, 15, 20],
    pts: eoSeasonPts, mid: pairs(seasonDays, eoSeasonMid), bands: [pairs(seasonDays, eoSeasonUp), pairs(seasonDays, eoSeasonLo)] },
  { title: 'Air-to-Water Association Profile for Eo', air: true, xr: eoAirRange, xt: [0, 5, 10, 15, 20], yr: eoYRange, yt: [5, 10, 15, 20], yl: [5, 10, 15, 20],
    pts: fromCols(eoAirCols), mid: pairs(eoAirX, eoAirMid), bands: [pairs(eoAirX, eoAirUp), pairs(eoAirUp2X, eoAirUp2), pairs(eoAirX, eoAirLo)] },
  { title: 'Seasonal Profile for Arakil', air: false, xr: dayRange, xt: dayTicks, yr: arakilYRange, yt: [5, 10, 15, 20, 25], yl: [5, 15, 25],
    pts: arakilSeasonPts, mid: pairs(seasonDays, arakilSeasonMid), bands: [pairs(seasonDays, arakilSeasonUp), pairs(seasonDays, arakilSeasonLo)] },
  { title: 'Air-to-Water Association Profile for Arakil', air: true, xr: arakilAirRange, xt: [-5, 0, 5, 10, 15, 20, 25, 30], yr: arakilYRange, yt: [5, 10, 15, 20, 25], yl: [5, 15, 25],
    pts: arakilAirPts, mid: pairs(arakilAirX, arakilAirMid), bands: [pairs(arakilAirX, arakilAirUp), pairs(arakilAirX, arakilAirLo)] }
]

// plot boxes in pixels
const colLeft = [82, 509]
const colWidth = [321, 320]
const rowTop = [51, 371, 689, 1008]
const rowHeight = [161, 160, 162, 160]

const grid = []
const xAxis = []
const yAxis = []
const series = []
const graphic = []

const txt = (x, y, text, size, opts = {}) => ({
  type: 'text', x, y, rotation: opts.rot || 0, silent: true,
  style: { text, font: (opts.bold ? 'bold ' : '') + size + 'px ' + FONT, fill: '#000', textAlign: 'center', textVerticalAlign: 'middle' }
})

panels.forEach((p, i) => {
  const c = i % 2
  const r = Math.floor(i / 2)
  const left = colLeft[c]
  const top = rowTop[r]
  const w = colWidth[c]
  const h = rowHeight[r]
  const cx = left + w / 2
  const cy = top + h / 2
  const bottom = top + h

  grid.push({ left, top, width: w, height: h, show: true, borderColor: '#000', borderWidth: 1, backgroundColor: 'transparent' })

  xAxis.push({
    type: 'value', gridIndex: i, min: p.xr[0], max: p.xr[1],
    axisLine: { show: false, onZero: false },
    axisTick: { show: true, inside: false, length: 7, customValues: p.xt, lineStyle: { color: '#000', width: 1 } },
    axisLabel: { customValues: p.xt, fontSize: 19, fontFamily: FONT, color: '#000', margin: 14 },
    splitLine: { show: false }
  })
  yAxis.push({
    type: 'value', gridIndex: i, min: p.yr[0], max: p.yr[1],
    axisLine: { show: false, onZero: false },
    axisTick: { show: true, inside: false, length: 7, customValues: p.yt, lineStyle: { color: '#000', width: 1 } },
    axisLabel: { customValues: p.yl, fontSize: 19, fontFamily: FONT, color: '#000', rotate: 90, margin: 14 },
    splitLine: { show: false }
  })

  series.push({
    type: 'scatter', xAxisIndex: i, yAxisIndex: i, data: p.pts,
    symbol: 'circle', symbolSize: 3.8, itemStyle: { color: '#a9a9a9' }, silent: true, z: 1
  })
  series.push({
    type: 'line', xAxisIndex: i, yAxisIndex: i, data: p.mid, smooth: 0.4,
    showSymbol: false, lineStyle: { color: '#000', width: 2.6 }, silent: true, z: 2
  })
  p.bands.forEach(b => {
    series.push({
      type: 'line', xAxisIndex: i, yAxisIndex: i, data: b, smooth: 0.4,
      showSymbol: false, lineStyle: { color: '#0000ff', width: 2.8, type: [12, 6] }, silent: true, z: 3
    })
  })

  // titles and axis labels
  graphic.push(txt(cx, top - 34, p.title, 17, { bold: true }))
  if (p.air) {
    graphic.push(txt(cx + 1, bottom + 43, '\u00b0 C', 14))
    graphic.push(txt(cx, bottom + 60, 'Air Temperature', 20))
  } else {
    graphic.push(txt(cx, bottom + 60, 'Julian Day', 20))
  }
  graphic.push(txt(left - 60, cy + 2, 'Water Temperature', 20, { rot: Math.PI / 2 }))
  graphic.push(txt(left - 39, cy - 1, '\u00b0 C', 14, { rot: Math.PI / 2 }))
})

const chart = echarts.init(document.getElementById('chart'), null, { renderer: 'canvas' })
chart.setOption({
  animation: false,
  backgroundColor: '#fff',
  grid, xAxis, yAxis, series, graphic
})
</script>
</body>
</html>
